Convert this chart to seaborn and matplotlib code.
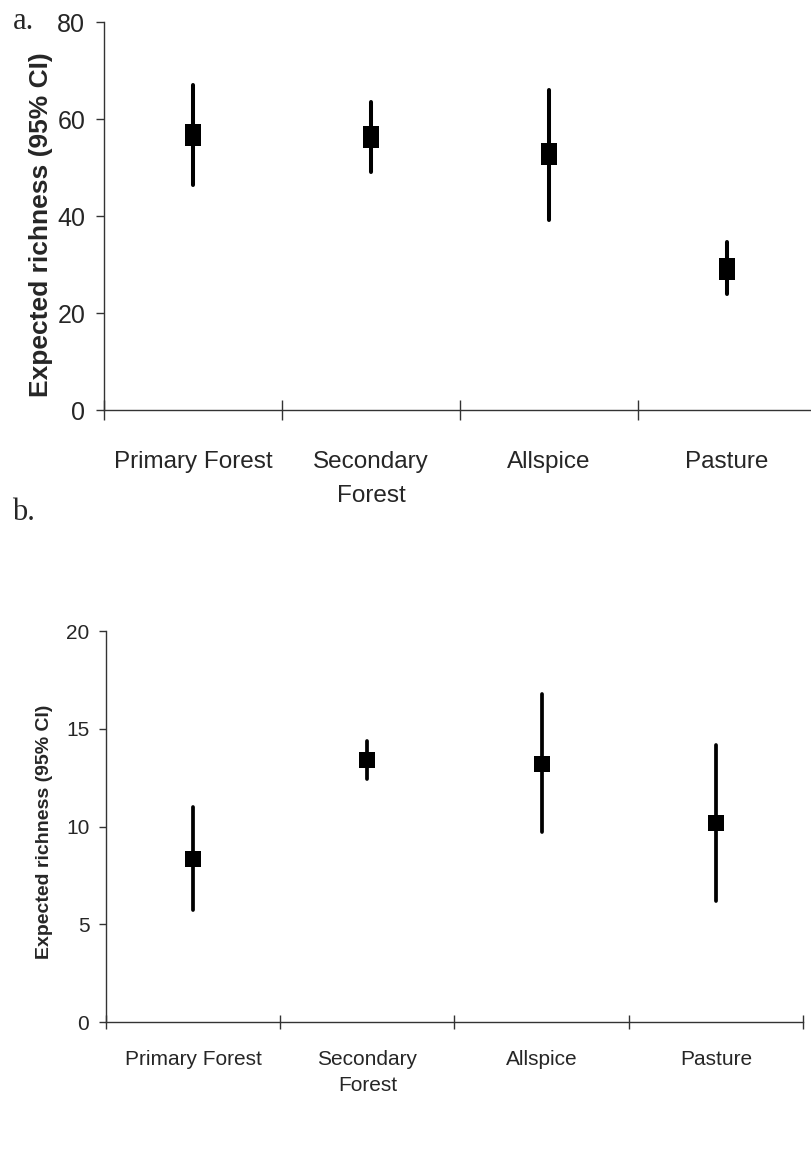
import matplotlib
matplotlib.use("Agg")
import matplotlib.pyplot as plt
import numpy as np
import pandas as pd
import seaborn as sns

# habitats and expected richness (mean with 95% CI)
habitats = ["Primary Forest", "Secondary\nForest", "Allspice", "Pasture"]

# a. first group
mean_a = [56.8, 56.3, 52.8, 29.1]
low_a = [46.4, 49.2, 39.3, 23.9]
high_a = [67.1, 63.6, 66.0, 34.6]

# b. second group
mean_b = [8.35, 13.38, 13.19, 10.19]
low_b = [5.73, 12.44, 9.73, 6.19]
high_b = [11.0, 14.37, 16.78, 14.18]

sns.set_theme(style="white")
plt.rcParams["font.family"] = ["Liberation Sans", "DejaVu Sans"]

fig = plt.figure(figsize=(8.11, 11.53), dpi=100)
ax_a = fig.add_axes([0.1282, 0.6441, 0.878, 0.3368])
ax_b = fig.add_axes([0.1307, 0.1136, 0.8594, 0.3391])

axis_col = "#333333"


def draw_panel(ax, mean, low, high, rect_w, msize, lw):
    df = pd.DataFrame({"habitat": habitats, "mean": mean})
    # confidence interval bars
    ax.vlines(np.arange(len(habitats)), low, high, color="black",
              linewidth=lw, capstyle="round", zorder=2)
    # rectangular marker for the mean
    rect = [(-rect_w, -1), (rect_w, -1), (rect_w, 1), (-rect_w, 1), (-rect_w, -1)]
    sns.pointplot(data=df, x="habitat", y="mean", errorbar=None, color="black",
                  linestyle="none", marker=rect, markersize=msize,
                  markeredgewidth=0, ax=ax, zorder=3)
    ax.set_xlim(-0.5, 3.5)
    ax.set_xticks(np.arange(len(habitats) + 1) - 0.5, minor=False)
    ax.set_xticklabels([])
    ax.set_xticks(np.arange(len(habitats)), minor=True)
    ax.set_xlabel("")
    for s in ["top", "right"]:
        ax.spines[s].set_visible(False)
    for s in ["left", "bottom"]:
        ax.spines[s].set_color(axis_col)
        ax.spines[s].set_linewidth(1.0)


# ---- panel a ----
draw_panel(ax_a, mean_a, low_a, high_a, 0.73, 16.5, 2.9)
ax_a.set_ylim(0, 80)
ax_a.set_yticks([0, 20, 40, 60, 80])
ax_a.set_yticklabels(["0", "20", "40", "60", "80"], fontsize=18)
ax_a.set_xticklabels(habitats, minor=True, fontsize=17.5,
                     linespacing=1.73, va="top")
ax_a.tick_params(axis="x", which="major", direction="inout", length=14,
                 width=1, color=axis_col, bottom=True)
ax_a.tick_params(axis="x", which="minor", length=0, pad=29, bottom=True)
ax_a.tick_params(axis="y", direction="out", length=5.5, width=1,
                 color=axis_col, pad=8, left=True)
ax_a.set_ylabel("Expected richness (95% CI)", fontsize=19, fontweight="bold")
ax_a.yaxis.set_label_coords(-0.072, 0.4785)

# ---- panel b ----
draw_panel(ax_b, mean_b, low_b, high_b, 1.0, 12.2, 2.7)
ax_b.set_ylim(0, 20)
ax_b.set_yticks([0, 5, 10, 15, 20])
ax_b.set_yticklabels(["0", "5", "10", "15", "20"], fontsize=15)
ax_b.set_xticklabels(habitats, minor=True, fontsize=15, linespacing=1.5,
                     va="top")
ax_b.tick_params(axis="x", which="major", direction="inout", length=10,
                 width=1, color=axis_col, bottom=True)
ax_b.tick_params(axis="x", which="minor", length=0, pad=20, bottom=True)
ax_b.tick_params(axis="y", direction="out", length=5, width=1,
                 color=axis_col, pad=7, left=True)
ax_b.set_ylabel("Expected richness (95% CI)", fontsize=14, fontweight="bold")
ax_b.yaxis.set_label_coords(-0.076, 0.487)

# panel letters
fig.text(13 / 811, 1 - 29 / 1153, "a.", family=["Liberation Serif"],
         fontsize=22, va="baseline", ha="left")
fig.text(12 / 811, 1 - 520 / 1153, "b.", family=["Liberation Serif"],
         fontsize=22, va="baseline", ha="left")

fig.savefig("out.png", dpi=100)
